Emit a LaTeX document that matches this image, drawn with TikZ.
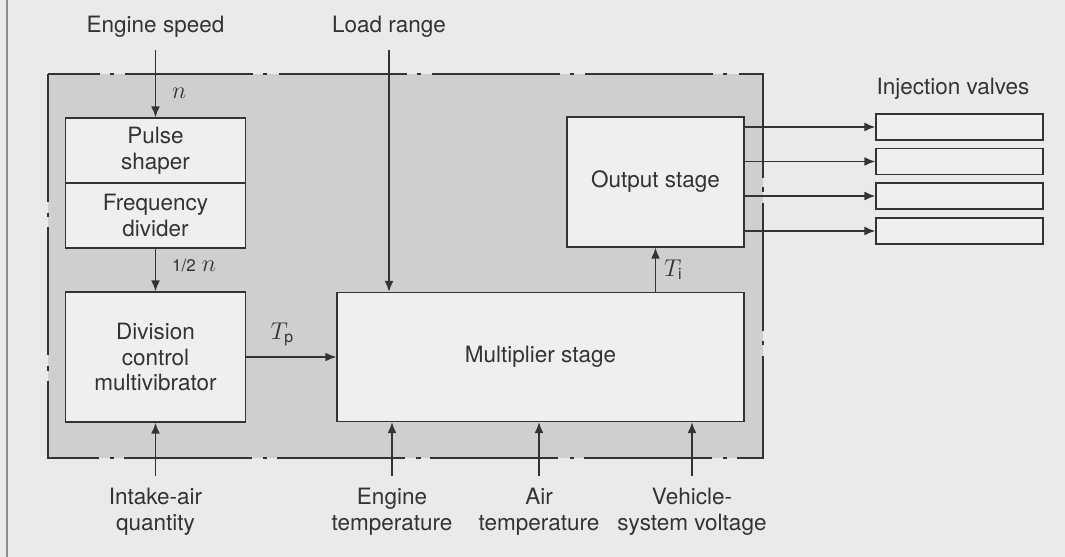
\documentclass[tikz,border=0pt]{standalone}
\usepackage{fontspec}
\setmainfont{TeX Gyre Heros}
\usetikzlibrary{arrows.meta}
\definecolor{paper}{HTML}{EAEAEA}
\definecolor{ecugray}{HTML}{CFCFCF}
\definecolor{boxfill}{HTML}{EFEFEF}
\definecolor{ink}{HTML}{333333}

\begin{document}
\begin{tikzpicture}[x=0.025cm, y=-0.025cm,
  every node/.style={text=ink, font=\fontsize{16}{18.2}\selectfont},
  block/.style={draw=ink, fill=boxfill, line width=1pt, align=center, inner sep=0pt},
  valve/.style={draw=ink, fill=boxfill, line width=1pt, minimum width=4.175cm, minimum height=0.65cm, inner sep=0pt},
  signal/.style={align=center, inner sep=3mm},
  sym/.style={inner sep=0pt},
  flow/.style={draw=ink, line width=1pt, -{Latex[length=2.7mm,width=2.2mm]}}]
\useasboundingbox (0,0) rectangle (1065,557);
\fill[paper] (0,0) rectangle (1065,557);
\draw[black!45, line width=1pt] (7,0) -- (7,557);

% control unit
\draw[draw=ink, fill=ecugray, line width=1pt, dash pattern=on 91pt off 8pt on 3pt off 7pt] (48,74) rectangle (763,458);

\node[block, minimum width=4.5cm, minimum height=1.625cm] (pulse) at (155.5,150.5) {Pulse\\shaper};
\node[block, minimum width=4.5cm, minimum height=1.625cm] (divider) at (155.5,215.5) {Frequency\\divider};
\node[block, minimum width=4.5cm, minimum height=3.25cm] (divmv) at (155.5,357) {Division\\control\\multivibrator};
\node[block, minimum width=10.175cm, minimum height=3.225cm] (mult) at (540.5,357) {Multiplier stage};
\node[block, minimum width=4.425cm, minimum height=3.25cm] (output) at (655.5,182) {Output stage};

\node[valve] (valve1) at (959.5,127) {};
\node[valve] (valve2) at (959.5,161.5) {};
\node[valve] (valve3) at (959.5,196) {};
\node[valve] (valve4) at (959.5,231) {};
\node[sym] (injection) at (953,89) {Injection valves};

\node[signal] (speed) at (155.5,27) {Engine speed};
\node[signal] (load) at (389,27) {Load range};
\node[signal] (intake) at (155.5,512) {Intake-air\\quantity};
\node[signal] (engtemp) at (392,512) {Engine\\temperature};
\node[signal] (airtemp) at (539,512) {Air\\temperature};
\node[signal] (voltage) at (692,512) {Vehicle-\\system voltage};

\draw[flow] (speed) -- node[sym, pos=0.65, right=0.4cm] {$n$} (pulse);
\draw[flow] (divider) -- node[sym, pos=0.4, right=0.4cm] {{\fontsize{12}{14}\selectfont 1/2} $n$} (divmv);
\draw[flow] (load) -- (load |- mult.north);
\draw[flow] (divmv) -- node[sym, pos=0.4, above=0.25cm] {$T_\mathrm{p}$} (mult);
\draw[flow] (output.south |- mult.north) -- node[sym, right=0.2cm] {$T_\mathrm{i}$} (output.south);

\draw[flow] (intake) -- (divmv);
\draw[flow] (engtemp) -- (engtemp |- mult.south);
\draw[flow] (airtemp) -- (airtemp |- mult.south);
\draw[flow] (voltage) -- (voltage |- mult.south);

\draw[flow] (output.east |- valve1) -- (valve1);
\draw[flow] (output.east |- valve2) -- (valve2);
\draw[flow] (output.east |- valve3) -- (valve3);
\draw[flow] (output.east |- valve4) -- (valve4);
\end{tikzpicture}
\end{document}
